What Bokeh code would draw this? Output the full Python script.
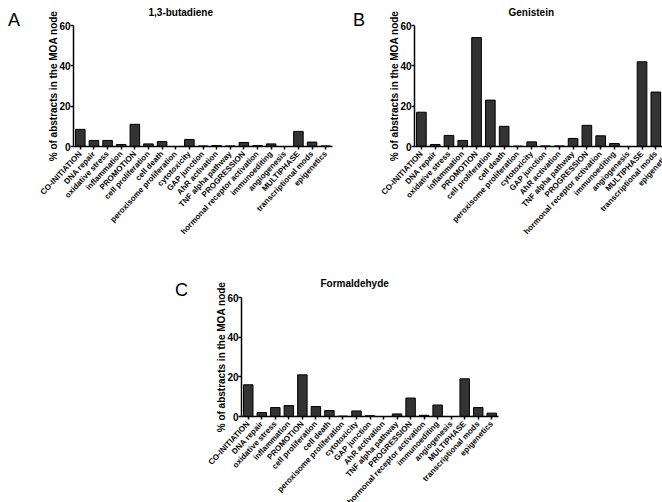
from bokeh.plotting import figure
from bokeh.models import Range1d, FixedTicker, FactorRange, Spacer, Div
from bokeh.layouts import column, row
from bokeh.embed import file_html
from bokeh.resources import INLINE
import math

categories = ["CO-INITIATION", "DNA repair", "oxidative stress", "inflammation",
              "PROMOTION", "cell proliferation", "cell death",
              "peroxisome proliferation", "cytotoxicity", "GAP junction",
              "AhR activation", "TNF alpha pathway", "PROGRESSION",
              "hormonal receptor activation", "immunoediting", "angiogenesis",
              "MULTIPHASE", "transcriptional mods", "epigenetics"]
butadiene = [8.5, 3.0, 3.0, 1.0, 11.0, 1.3, 2.5, 0.0, 3.5, 0.3, 0.5, 0.3,
             2.0, 0.5, 1.3, 0.0, 7.5, 2.2, 0.3]
genistein = [17.0, 1.0, 5.5, 3.0, 54.0, 23.0, 10.0, 0.2, 2.3, 0.3, 0.3, 4.0,
             10.5, 5.3, 1.5, 0.0, 42.0, 27.0, 0.8]
formaldehyde = [16.0, 2.0, 4.5, 5.5, 21.0, 5.0, 3.0, 0.2, 2.8, 0.4, 0.0, 1.3,
                9.3, 0.6, 5.8, 0.0, 19.0, 4.5, 1.7]
y_ticks = [0, 20, 40, 60]
y_label = "% of abstracts in the MOA node"
titles = ["1,3-butadiene", "Genistein", "Formaldehyde"]
letters = ["A", "B", "C"]

FONT = "Liberation Sans"


def side(width, height, letter, left_pad, top_pad):
    html = ('<span style="display:block; margin:0; padding:%dpx 0 0 %dpx; '
            'font-family:\'Liberation Sans\'; font-size:18px; line-height:18px; '
            'color:black;">%s</span>' % (top_pad, left_pad, letter))
    return Div(text=html, width=width, height=height)


def panel(values, title, title_offset, title_standoff, width, height, bl, br, bt, bb):
    p = figure(x_range=FactorRange(factors=categories, range_padding=0),
               y_range=Range1d(0, 60), width=width, height=height,
               output_backend="svg", toolbar_location=None,
               min_border_left=bl, min_border_right=br,
               min_border_top=bt, min_border_bottom=bb)
    p.vbar(x=categories, top=values, width=0.7, fill_color="#333333",
           line_color="black", line_width=1)
    p.outline_line_color = None
    p.xgrid.visible = False
    p.ygrid.visible = False

    p.title.text = title
    p.title.align = "left"
    p.title.offset = title_offset
    p.title.vertical_align = "top"
    p.title.standoff = title_standoff
    p.title.text_font = FONT
    p.title.text_font_style = "bold"
    p.title.text_font_size = "10px"
    p.title.text_color = "black"

    p.yaxis.ticker = FixedTicker(ticks=y_ticks)
    p.yaxis.axis_label = y_label
    p.yaxis.axis_label_text_font = FONT
    p.yaxis.axis_label_text_font_style = "bold"
    p.yaxis.axis_label_text_font_size = "10px"
    p.yaxis.axis_label_text_color = "black"
    p.yaxis.axis_label_standoff = -3
    p.yaxis.major_label_text_font = FONT
    p.yaxis.major_label_text_font_style = "bold"
    p.yaxis.major_label_text_font_size = "10px"
    p.yaxis.major_label_standoff = 0
    p.yaxis.minor_tick_line_color = None

    p.xaxis.major_label_orientation = math.radians(47)
    p.xaxis.major_label_text_font = FONT
    p.xaxis.major_label_text_font_style = "bold"
    p.xaxis.major_label_text_font_size = "8px"
    p.xaxis.major_label_standoff = 3

    for ax in (p.xaxis, p.yaxis):
        ax.axis_line_width = 1.5
        ax.axis_line_color = "black"
        ax.major_tick_line_width = 1.5
        ax.major_tick_line_color = "black"
        ax.major_tick_out = 3
        ax.major_tick_in = 0
        ax.major_label_text_color = "black"
    return p


sA = side(20, 260, letters[0], 3, 6)
pA = panel(butadiene, titles[0], 75, 11, 311, 260, 43, 9, 25, 114)

sB = side(20, 260, letters[1], 7, 6)
pB = panel(genistein, titles[1], 94, 11, 311, 260, 43, 6, 25, 114)

sC = side(24, 242, letters[2], 10, 6)
pC = panel(formaldehyde, titles[2], 79, 13, 309, 242, 47, 5, 27, 95)

layout = column(
    row(sA, pA, sB, pB),
    row(Spacer(width=160, height=242), sC, pC),
)

open("out.html", "w").write(file_html(layout, INLINE))
